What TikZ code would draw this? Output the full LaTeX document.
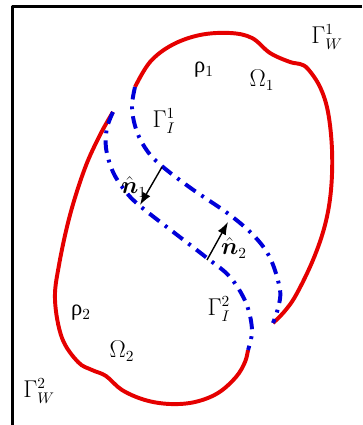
\documentclass[tikz,border=0pt]{standalone}
\usepackage{amsmath}
\usepackage{fontspec}
\setmainfont{Liberation Serif}
\usetikzlibrary{arrows.meta}

\begin{document}
\begin{tikzpicture}[x=0.025cm, y=-0.025cm, line join=round,
    font=\fontsize{16}{18}\selectfont,
    wall/.style={red!90!black, line width=2.8pt},
    iface/.style={blue!85!black, line width=2.8pt,
                  dash pattern=on 9pt off 5pt on 2pt off 5pt},
    normal/.style={black, line width=1pt, -{Latex[length=9pt, width=6.5pt]}}]

    % picture area, only top and left edges of the frame are visible
    \useasboundingbox (0,0) rectangle (362,425);
    \draw[line width=1.6pt] (362,6.5) -- (12.5,6.5) -- (12.5,425);

    % wall of region 1 (top right)
    \draw[wall] plot[smooth, tension=0.6] coordinates {(135,87) (150,62) (172,45) (200,35)
        (230,33) (252,38) (270,53) (290,62) (300,64) (308,69) (320,87) (328,112)
        (332,150) (331,190) (325,225) (313,260) (296,295) (284,312) (273,323)};

    % wall of region 2 (bottom left)
    \draw[wall] plot[smooth, tension=0.6] coordinates {(113,112) (100,135) (85,168)
        (70,215) (59,265) (55,300) (62,338) (78,362) (92,370) (106,376) (122,390)
        (145,400) (170,404) (195,402) (218,393) (236,377) (245,362) (248,350)};

    % interfaces
    \draw[iface] plot[smooth, tension=0.6] coordinates {(135,87) (132,108) (137,132)
        (148,152) (163,167) (192,189) (230,215) (256,238) (271,260) (280,290)
        (278,308) (273,323)};
    \draw[iface] plot[smooth, tension=0.6] coordinates {(113,112) (107,128) (106,148)
        (113,172) (126,192) (140,206) (172,231) (207,258) (230,277) (246,303)
        (252,330) (248,350)};

    % unit normals
    \coordinate (n1a) at (162,167);
    \coordinate (n1b) at (140,205);
    \coordinate (n2a) at (207,260);
    \coordinate (n2b) at (228,222);
    \draw[normal] (n1a) -- (n1b);
    \draw[normal] (n2a) -- (n2b);

    % labels
    \node (gw1) at (327,37)  {$\Gamma^{1}_{W}$};
    \node (rho1) at (204,70) {ρ$_1$};
    \node (om1) at (262,80)  {$\Omega_1$};
    \node (gi1) at (164,121) {$\Gamma^{1}_{I}$};
    \node (nl1) at (134,187) {$\hat{\boldsymbol{n}}_1$};
    \node (nl2) at (234,248) {$\hat{\boldsymbol{n}}_2$};
    \node (rho2) at (81,313) {ρ$_2$};
    \node (gi2) at (219,309) {$\Gamma^{2}_{I}$};
    \node (om2) at (122,351) {$\Omega_2$};
    \node (gw2) at (39,391)  {$\Gamma^{2}_{W}$};

\end{tikzpicture}
\end{document}
